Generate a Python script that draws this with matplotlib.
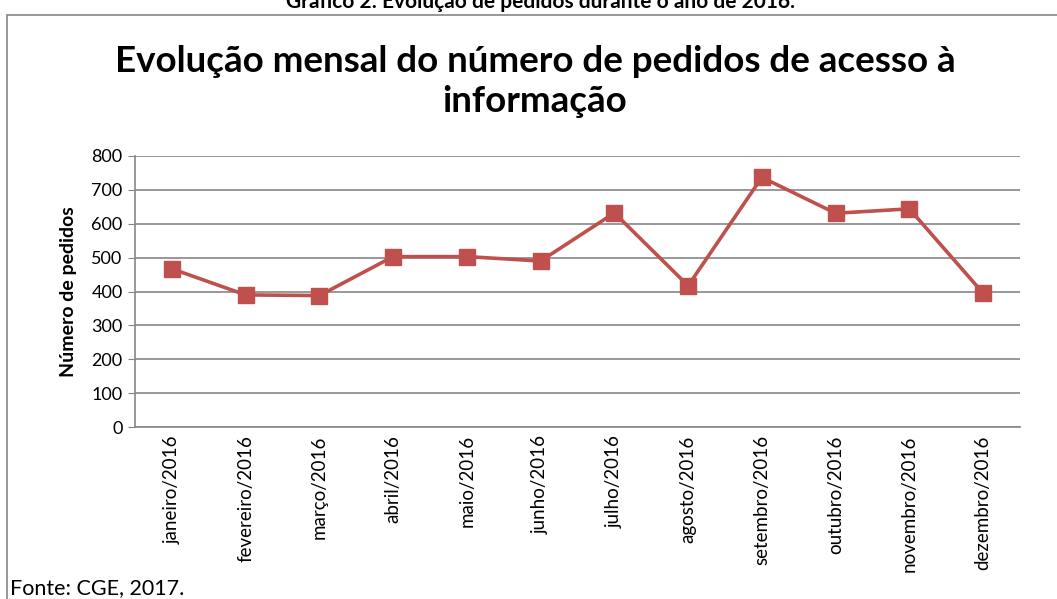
import matplotlib
matplotlib.use("Agg")
import matplotlib.pyplot as plt
from matplotlib.patches import Rectangle

months = ["janeiro/2016", "fevereiro/2016", "março/2016", "abril/2016", "maio/2016",
          "junho/2016", "julho/2016", "agosto/2016", "setembro/2016", "outubro/2016",
          "novembro/2016", "dezembro/2016"]
pedidos = [467, 390, 388, 503, 503, 490, 632, 417, 737, 631, 644, 395]
yticks = [0, 100, 200, 300, 400, 500, 600, 700, 800]

plt.rcParams['font.family'] = ['Lato', 'DejaVu Sans']

fig = plt.figure(figsize=(10.57, 5.99), dpi=100)
fig.patch.set_facecolor('white')

# border box
fig.patches.append(Rectangle((7/1057, -0.01), 1.1, 1 - 15/599 + 0.01, transform=fig.transFigure,
                             fill=False, edgecolor='#868686', linewidth=1.2))

fig.text(540/1057, 1 - 2/599, "Gráfico 2: Evolução de pedidos durante o ano de 2016.",
         ha='center', va='center', fontsize=15, fontweight='bold')
fig.text(535/1057, 1 - 61/599, "Evolução mensal do número de pedidos de acesso à",
         ha='center', va='center', fontsize=26.5, fontweight='bold')
fig.text(535/1057, 1 - 101/599, "informação",
         ha='center', va='center', fontsize=26.5, fontweight='bold')
fig.text(10/1057, 1 - 588/599, "Fonte: CGE, 2017.", ha='left', va='center', fontsize=15.5)

ax = fig.add_axes([135/1057, 1 - 427/599, (1020 - 135)/1057, (427 - 156)/599])
x = list(range(len(months)))
ax.plot(x, pedidos, color='#C0504D', linewidth=2.6, marker='s', markersize=11,
        markerfacecolor='#C0504D', markeredgecolor='#C0504D', zorder=3)
ax.set_xlim(-0.5, len(months) - 0.5)
ax.set_ylim(0, 800)
ax.set_yticks(yticks)
ax.set_yticklabels([str(v) for v in yticks], fontsize=13)
ax.set_xticks(x)
ax.set_xticklabels(months, rotation=90, fontsize=13.5)
ax.yaxis.grid(True, color='#868686', linewidth=1.2)
ax.set_axisbelow(True)
for s in ['top', 'right']:
    ax.spines[s].set_visible(False)
ax.spines['left'].set_color('#868686')
ax.spines['bottom'].set_color('#868686')
ax.spines['left'].set_linewidth(1.2)
ax.spines['bottom'].set_linewidth(1.2)
ax.tick_params(axis='y', length=5, color='#868686', pad=4)
ax.tick_params(axis='x', length=0, pad=6)
ax.set_ylabel("Número de pedidos", fontsize=14, fontweight='bold', labelpad=10)

fig.savefig("out.png", dpi=100)
